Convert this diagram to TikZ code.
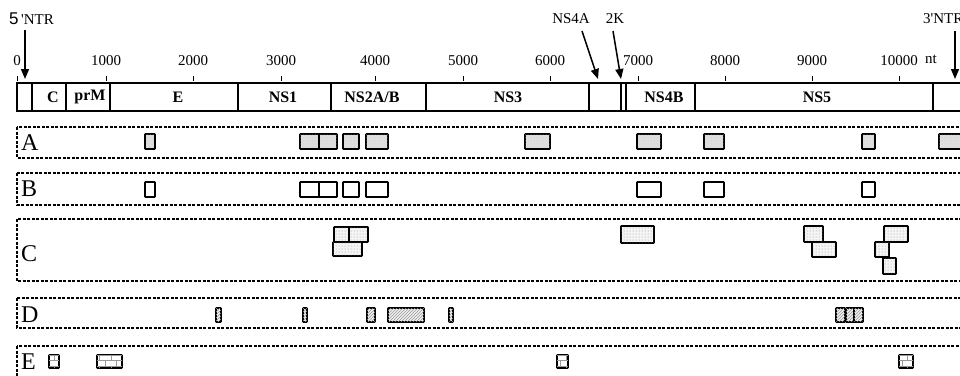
\documentclass[tikz,border=0pt]{standalone}
\usepackage{fontspec}
\setmainfont{Liberation Serif}
\setsansfont{Liberation Sans}
\usetikzlibrary{arrows.meta,patterns}
\tikzset{
  lbl/.style={font=\fontsize{15}{18}\selectfont, inner sep=0pt},
  seglbl/.style={font=\fontsize{16}{18}\selectfont\bfseries, inner sep=0pt},
  rowlbl/.style={font=\fontsize{24}{28}\selectfont, inner sep=0pt, anchor=west},
  arr/.style={line width=1.5pt, -{Triangle[length=10pt,width=8pt]}},
  tick/.style={line width=1pt},
  bar/.style={line width=1.5pt},
  row/.style={line width=1.1pt, dash pattern=on 3pt off 1.5pt},
  sbox/.style={draw, line width=1.7pt, rounded corners=0.5pt, inner sep=0pt, outer sep=0pt},
  boxA/.style={sbox, fill=gray!25, postaction={pattern=dots, pattern color=gray!45}},
  boxB/.style={sbox, fill=white},
  boxC/.style={sbox, fill=gray!8, postaction={pattern=dots, pattern color=gray!80}},
  boxD/.style={sbox, fill=gray!12, postaction={pattern=north east lines, pattern color=gray!80}},
  boxE/.style={sbox, fill=white, postaction={pattern=bricks, pattern color=gray!80}},
}
\newcommand\gbox[6]{\node[#1,anchor=north west,minimum width={(#4-#2)*1pt},minimum height={(#5-#3)*1pt}] (#6) at (#2,#3) {};}
\begin{document}
\begin{tikzpicture}[x=1pt,y=-1pt]
\useasboundingbox (0,0) rectangle (960,375);
\clip (0,0) rectangle (960,375);
% top labels and arrows
\node[lbl, anchor=west] (ntr5) at (9,19) {{\sffamily\fontsize{17}{18}\selectfont 5}\,\textquotesingle NTR};
\coordinate (ntr5a) at (25,30);
\coordinate (ntr5b) at (25,79);
\draw[arr] (ntr5a) -- (ntr5b);
\node[lbl] (ns4a) at (571,19) {NS4A};
\coordinate (ns4aa) at (582,31);
\coordinate (ns4ab) at (598,79);
\draw[arr] (ns4aa) -- (ns4ab);
\node[lbl] (k2) at (615,19) {2K};
\coordinate (k2a) at (613,31);
\coordinate (k2b) at (621,79);
\draw[arr] (k2a) -- (k2b);
\node[lbl, anchor=west] (ntr3) at (923,19) {3\textquotesingle NTR};
\coordinate (ntr3a) at (955,31);
\coordinate (ntr3b) at (955,79);
\draw[arr] (ntr3a) -- (ntr3b);
% scale
\foreach \x/\t [count=\i] in {17/0,106/1000,193/2000,281/3000,375/4000,463/5000,550/6000,638/7000,725/8000,812/9000,899/10000}{
  \node[lbl] (t\i) at (\x,61) {\t};
  \draw[tick] (\x,76) -- (\x,81);
}
\node[lbl] (nt) at (931,59) {nt};
% genome bar
\draw[bar] (17,83) rectangle (985,111);
\foreach \x in {32,66,110,238,331,426,589,621,626,695,933}{
  \draw[bar] (\x,83) -- (\x,111);
}
\node[seglbl] (sC) at (53,97) {C};
\node[seglbl] (sprM) at (90,97) {prM};
\node[seglbl] (sE) at (178,97) {E};
\node[seglbl] (sNS1) at (283,97) {NS1};
\node[seglbl] (sNS2) at (372,97) {NS2A/B};
\node[seglbl] (sNS3) at (508,97) {NS3};
\node[seglbl] (sNS4B) at (664,97) {NS4B};
\node[seglbl] (sNS5) at (817,97) {NS5};
% rows
\draw[row] (17,127) rectangle (990,158);
\draw[row] (17,173) rectangle (990,205);
\draw[row] (17,219) rectangle (990,281);
\draw[row] (17,298) rectangle (990,328);
\draw[row] (17,346) rectangle (990,395);
\node[rowlbl] (lA) at (21,143) {A};
\node[rowlbl] (lB) at (21,189) {B};
\node[rowlbl] (lC) at (21,254) {C};
\node[rowlbl] (lD) at (21,315) {D};
\node[rowlbl] (lE) at (21,362) {E};
% row A
\gbox{boxA}{145}{134}{155}{149}{a1}
\gbox{boxA}{300}{134}{319}{149}{a2}
\gbox{boxA}{319}{134}{337}{149}{a3}
\gbox{boxA}{343}{134}{359}{149}{a4}
\gbox{boxA}{366}{134}{388}{149}{a5}
\gbox{boxA}{525}{134}{550}{149}{a6}
\gbox{boxA}{637}{134}{661}{149}{a7}
\gbox{boxA}{704}{134}{724}{149}{a8}
\gbox{boxA}{862}{134}{875}{149}{a9}
\gbox{boxA}{939}{134}{975}{149}{a10}
% row B
\gbox{boxB}{145}{182}{155}{197}{b1}
\gbox{boxB}{300}{182}{319}{197}{b2}
\gbox{boxB}{319}{182}{337}{197}{b3}
\gbox{boxB}{343}{182}{359}{197}{b4}
\gbox{boxB}{366}{182}{388}{197}{b5}
\gbox{boxB}{637}{182}{661}{197}{b6}
\gbox{boxB}{704}{182}{724}{197}{b7}
\gbox{boxB}{862}{182}{875}{197}{b8}
% row C
\gbox{boxC}{334}{227}{349}{242}{c1}
\gbox{boxC}{349}{227}{368}{242}{c2}
\gbox{boxC}{333}{242}{362}{256}{c3}
\gbox{boxC}{621}{226}{654}{243}{c4}
\gbox{boxC}{804}{226}{823}{242}{c5}
\gbox{boxC}{812}{242}{836}{257}{c6}
\gbox{boxC}{884}{226}{908}{242}{c7}
\gbox{boxC}{875}{242}{889}{257}{c8}
\gbox{boxC}{883}{258}{896}{274}{c9}
% row D
\gbox{boxD}{216}{308}{221}{322}{d1}
\gbox{boxD}{303}{308}{307}{322}{d2}
\gbox{boxD}{367}{308}{375}{322}{d3}
\gbox{boxD}{388}{308}{424}{322}{d4}
\gbox{boxD}{449}{308}{453}{322}{d5}
\gbox{boxD}{836}{308}{845}{322}{d6}
\gbox{boxD}{846}{308}{854}{322}{d7}
\gbox{boxD}{854}{308}{863}{322}{d8}
% row E
\gbox{boxE}{49}{355}{59}{368}{e1}
\gbox{boxE}{97}{355}{122}{368}{e2}
\gbox{boxE}{557}{355}{568}{368}{e3}
\gbox{boxE}{899}{355}{913}{368}{e4}
\end{tikzpicture}
\end{document}
